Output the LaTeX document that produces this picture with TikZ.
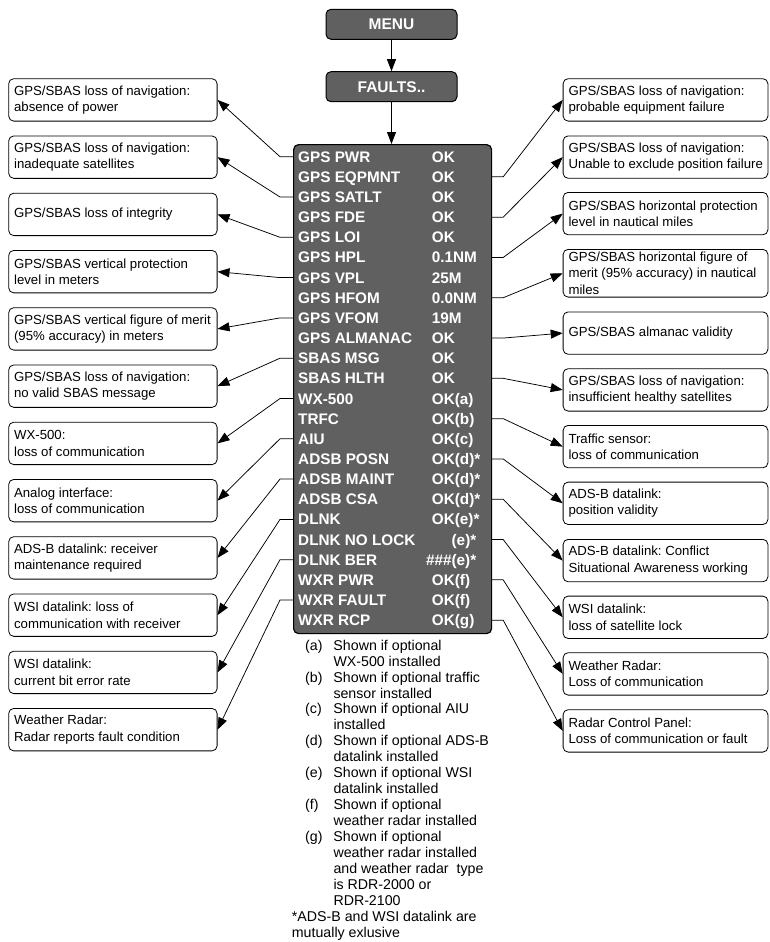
\documentclass[tikz,border=0pt]{standalone}
\usepackage{fontspec}
\setmainfont{Liberation Sans}
\usetikzlibrary{arrows.meta}
\definecolor{panel}{HTML}{606060}
\tikzset{
  conn/.style={draw=black, line width=0.75pt, -{Triangle[length=12pt,width=9pt]}},
  sidebox/.style={draw=black, line width=0.8pt, rounded corners=5pt, fill=white,
    inner sep=0pt, anchor=north west, minimum height=42.4pt},
  lbox/.style={sidebox, minimum width=208.4pt},
  rbox/.style={sidebox, minimum width=204.8pt},
  stxt/.style={anchor=west, align=left, inner sep=0pt, xshift=5.6pt,
    font=\fontsize{13.2}{16.3}\selectfont\frenchspacing},
  menubox/.style={draw=black, line width=1pt, fill=panel, rounded corners=5pt,
    minimum width=131pt, minimum height=30pt, text=white, inner sep=0pt,
    font=\fontsize{15.5}{18}\selectfont\bfseries},
  rowlbl/.style={text=white, font=\fontsize{15.3}{18}\selectfont\bfseries, inner sep=0pt, anchor=base west},
  notes/.style={font=\fontsize{14.2}{15.95}\selectfont\frenchspacing, inner sep=0pt, anchor=north west, align=left}
}
\begin{document}
\begin{tikzpicture}[x=1pt,y=-1pt]
\useasboundingbox (0,0) rectangle (769,942);

% top boxes
\node[menubox] (menu) at (391.5,24.3) {MENU};
\node[menubox] (faults) at (391.5,86.7) {FAULTS..};
\node[draw=black, fill=panel, rounded corners=5pt, line width=1.2pt, minimum width=198pt,
  minimum height=489pt, anchor=north west, inner sep=0pt] (list) at (293,144) {};
\draw[conn] (menu) -- (faults);
\draw[conn] (faults) -- (faults.south |- list.north);

% rows
\foreach \lbl/\val [count=\i] in {GPS PWR/OK, GPS EQPMNT/OK, GPS SATLT/OK, GPS FDE/OK, GPS LOI/OK,
  GPS HPL/0.1NM, GPS VPL/25M, GPS HFOM/0.0NM, GPS VFOM/19M, GPS ALMANAC/OK, SBAS MSG/OK,
  SBAS HLTH/OK, WX-500/OK(a), TRFC/OK(b), AIU/OK(c), ADSB POSN/OK(d)*, ADSB MAINT/OK(d)*,
  ADSB CSA/OK(d)*, DLNK/OK(e)*, DLNK NO LOCK/, DLNK BER/, WXR PWR/OK(f), WXR FAULT/OK(f), WXR RCP/OK(g)} {
  \pgfmathsetmacro\yc{156.7+20.15*(\i-1)}
  \pgfmathsetmacro\yb{\yc+5.5}
  \coordinate (row\i) at (0,\yc);
  \node[rowlbl] (lab\i) at (298,\yb) {\lbl};
  \node[rowlbl] (val\i) at (431.7,\yb) {\val};
}
\pgfmathsetmacro\ya{156.7+20.15*19+5.5}
\pgfmathsetmacro\yb{156.7+20.15*20+5.5}
\node[rowlbl, anchor=base east] (valx20) at (476.5,\ya) {(e)*};
\node[rowlbl, anchor=base east] (valx21) at (476.5,\yb) {\#\#\#(e)*};

% left boxes
\foreach \t [count=\k] in {
  {GPS/SBAS loss of navigation:\\absence of power},
  {GPS/SBAS loss of navigation:\\inadequate satellites},
  {GPS/SBAS loss of integrity},
  {GPS/SBAS vertical protection\\level in meters},
  {GPS/SBAS vertical figure of merit\\(95\% accuracy) in meters},
  {GPS/SBAS loss of navigation:\\no valid SBAS message},
  {WX-500:\\loss of communication},
  {Analog interface:\\loss of communication},
  {ADS-B datalink: receiver\\maintenance required},
  {WSI datalink: loss of\\communication with receiver},
  {WSI datalink:\\current bit error rate},
  {Weather Radar:\\Radar reports fault condition}} {
  \pgfmathsetmacro\tp{78.3+57.25*(\k-1)}
  \node[lbox] (L\k) at (8.3,\tp) {};
  \node[stxt] (Lt\k) at (L\k.west) {\t};
}

% right boxes
\foreach \tp/\t [count=\k] in {
  78.3/{GPS/SBAS loss of navigation:\\probable equipment failure},
  135.5/{GPS/SBAS loss of navigation:\\Unable to exclude position failure},
  192/{GPS/SBAS horizontal protection\\level in nautical miles},
  249/{GPS/SBAS horizontal figure of\\merit (95\% accuracy) in nautical\\miles},
  311.5/{GPS/SBAS almanac validity},
  368.3/{GPS/SBAS loss of navigation:\\insufficient healthy satellites},
  425/{Traffic sensor:\\loss of communication},
  481.7/{ADS-B datalink:\\position validity},
  539/{ADS-B datalink: Conflict\\Situational Awareness working},
  595.7/{WSI datalink:\\loss of satellite lock},
  652.3/{Weather Radar:\\Loss of communication},
  709.3/{Radar Control Panel:\\Loss of communication or fault}} {
  \ifnum\k=4
    \node[rbox, minimum height=47.7pt] (R\k) at (562.7,\tp) {};
  \else
    \node[rbox] (R\k) at (562.7,\tp) {};
  \fi
  \node[stxt] (Rt\k) at (R\k.west) {\t};
}

% connectors
\foreach \k in {1,...,12} {
  \pgfmathtruncatemacro\a{2*\k-1}
  \pgfmathtruncatemacro\b{2*\k}
  \draw[conn] (list.west |- row\a) -- ++(-13,0) -- (L\k.east);
  \draw[conn] (list.east |- row\b) -- ++(11,0) -- (R\k.west);
}

% footnotes
\node[notes] (notes) at (291.7,638.8) {%
\begin{tabular}{@{\hspace{13.3pt}}p{28.3pt}@{}l@{}}
(a) & Shown if optional\\
    & WX-500 installed\\
(b) & Shown if optional traffic\\
    & sensor installed\\
(c) & Shown if optional AIU\\
    & installed\\
(d) & Shown if optional ADS-B\\
    & datalink installed\\
(e) & Shown if optional WSI\\
    & datalink installed\\
(f) & Shown if optional\\
    & weather radar installed\\
(g) & Shown if optional\\
    & weather radar installed\\
    & and weather radar~ type\\
    & is RDR-2000 or\\
    & RDR-2100\\
\multicolumn{2}{@{}l@{}}{*ADS-B and WSI datalink are}\\
\multicolumn{2}{@{}l@{}}{mutually exlusive}
\end{tabular}};
\end{tikzpicture}
\end{document}
